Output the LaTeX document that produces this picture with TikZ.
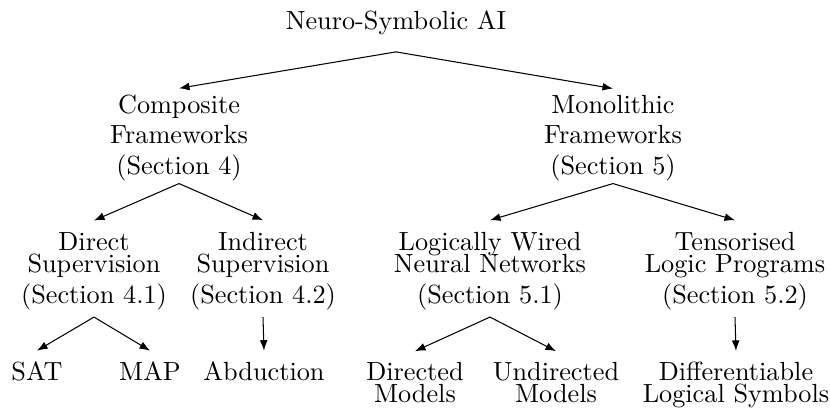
\documentclass[tikz,border=0pt]{standalone}
\usetikzlibrary{calc,arrows.meta}
\begin{document}
\begin{tikzpicture}[x=0.381pt,y=-0.381pt,
  lbl/.style={align=center,inner sep=0pt,anchor=base},
  arr/.style={-{Latex[length=4pt,width=3pt]},line width=0.4pt}]
\useasboundingbox (0,0) rectangle (830,411);
\node[lbl] (root) at (396,30) {Neuro-Symbolic AI};
\node[lbl] (comp) at (179,175) {Composite\\[-0.5pt]Frameworks\\(Section 4)};
\node[lbl] (mono) at (613,175) {Monolithic\\[-0.5pt]Frameworks\\(Section 5)};
\node[lbl] (dsup) at (94,304) {Direct\\[-3.6pt]Supervision\\(Section 4.1)};
\node[lbl] (isup) at (263,304) {Indirect\\[-3.6pt]Supervision\\(Section 4.2)};
\node[lbl] (lwnn) at (490,304) {Logically Wired\\[-3.6pt]Neural Networks\\(Section 5.1)};
\node[lbl] (tlp) at (735,304) {Tensorised\\[-3.6pt]Logic Programs\\(Section 5.2)};
\node[lbl] (sat) at (37,381) {SAT};
\node[lbl] (map) at (150,381) {MAP};
\node[lbl] (abd) at (264,381) {Abduction};
\node[lbl] (dirm) at (415,403) {Directed\\[-3.6pt]Models};
\node[lbl] (undm) at (556,403) {Undirected\\[-3.6pt]Models};
\node[lbl] (dls) at (736,403) {Differentiable\\[-3.6pt]Logical Symbols};
% level 0 -> 1
\draw[arr] ($(root.south)+(0,16)$) -- ($(comp.north)+(0,-6)$);
\draw[arr] ($(root.south)+(0,16)$) -- ($(mono.north)+(0,-6)$);
% level 1 -> 2
\draw[arr] ($(comp.south)+(0,1.5)$) -- ($(dsup.north)+(0,-11.5)$);
\draw[arr] ($(comp.south)+(0,1.5)$) -- ($(isup.north)+(0,-11.5)$);
\draw[arr] ($(mono.south)+(0,1.5)$) -- ($(lwnn.north)+(0,-11.5)$);
\draw[arr] ($(mono.south)+(0,1.5)$) -- ($(tlp.north)+(0,-11.5)$);
% level 2 -> 3
\draw[arr] ($(dsup.south)+(0,6)$) -- ($(sat.north)+(0,-11)$);
\draw[arr] ($(dsup.south)+(0,6)$) -- ($(map.north)+(0,-11)$);
\draw[arr] ($(isup.south)+(0,6)$) -- ($(abd.north)+(0,-11)$);
\draw[arr] ($(lwnn.south)+(0,6)$) -- ($(dirm.north)+(0,-11)$);
\draw[arr] ($(lwnn.south)+(0,6)$) -- ($(undm.north)+(0,-11)$);
\draw[arr] ($(tlp.south)+(0,6)$) -- ($(dls.north)+(0,-11)$);
\end{tikzpicture}
\end{document}
